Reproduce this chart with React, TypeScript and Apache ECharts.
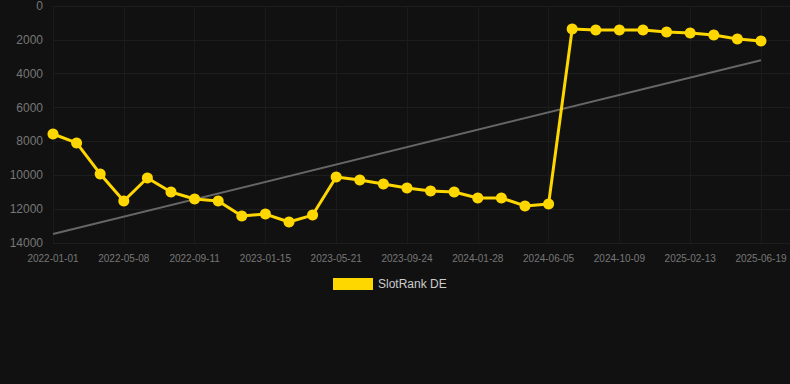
import React, { useEffect, useRef } from "react";
import * as echarts from "echarts";

const dates: string[] = [
  "2022-01-01", "2022-02-12", "2022-03-26", "2022-05-08", "2022-06-19", "2022-07-31",
  "2022-09-11", "2022-10-23", "2022-12-04", "2023-01-15", "2023-02-26", "2023-04-09",
  "2023-05-21", "2023-07-02", "2023-08-13", "2023-09-24", "2023-11-05", "2023-12-17",
  "2024-01-28", "2024-03-10", "2024-04-22", "2024-06-05", "2024-07-17", "2024-08-28",
  "2024-10-09", "2024-11-20", "2025-01-01", "2025-02-13", "2025-03-27", "2025-05-08",
  "2025-06-19",
];

const rankValues: number[] = [
  7560, 8090, 9920, 11520, 10160, 10990, 11400, 11520, 12400, 12290, 12760, 12350,
  10100, 10280, 10510, 10750, 10930, 10990, 11340, 11340, 11810, 11700,
  1360, 1420, 1420, 1420, 1540, 1600, 1710, 1950, 2070,
];

const trendStart: [number, number] = [0, 13470];
const trendEnd: [number, number] = [30, 3200];

const yTicks = { min: 0, max: 14000, interval: 2000 };

export default function App() {
  const ref = useRef<HTMLDivElement>(null);
  useEffect(() => {
    if (!ref.current) return;
    const chart = echarts.init(ref.current, null, { renderer: "svg" });
    const font = "Arial, Liberation Sans, sans-serif";
    chart.setOption({
      animation: false,
      backgroundColor: "#111111",
      grid: { left: 53, right: 0, top: 6, bottom: 141, containLabel: false },
      legend: {
        data: ["SlotRank DE"],
        top: 273,
        left: 328,
        itemWidth: 40,
        itemHeight: 12,
        icon: "rect",
        textStyle: { color: "#cccccc", fontSize: 12, fontFamily: font },
      },
      xAxis: {
        type: "value",
        min: 0,
        max: 31.23,
        interval: 3,
        axisLine: { show: false },
        axisTick: { show: false },
        axisLabel: {
          color: "#777777",
          fontSize: 10,
          margin: 10,
          fontFamily: font,
          showMaxLabel: false,
          formatter: (v: number) => (Number.isInteger(v) && dates[v] ? dates[v] : ""),
        },
        splitLine: { show: true, lineStyle: { color: "#1b1b1b", width: 1 } },
      },
      yAxis: {
        type: "value",
        inverse: true,
        min: yTicks.min,
        max: yTicks.max,
        interval: yTicks.interval,
        axisLine: { show: false },
        axisTick: { show: false },
        axisLabel: {
          color: "#777777",
          fontSize: 12,
          margin: 10,
          fontFamily: font,
          formatter: (v: number) => String(v),
        },
        splitLine: { show: true, lineStyle: { color: "#1d1d1d", width: 1 } },
      },
      series: [
        {
          name: "Trend",
          type: "line",
          data: [trendStart, trendEnd],
          symbol: "none",
          lineStyle: { color: "#666666", width: 2 },
          z: 1,
        },
        {
          name: "SlotRank DE",
          type: "line",
          data: rankValues.map((v, i) => [i, v]),
          symbol: "circle",
          symbolSize: 11,
          itemStyle: { color: "#FFD700" },
          lineStyle: { color: "#FFD700", width: 3 },
          z: 2,
        },
      ],
    });
    return () => chart.dispose();
  }, []);
  return (
    <div
      ref={ref}
      style={{ position: "fixed", left: 0, top: 0, width: 790, height: 384 }}
    />
  );
}
